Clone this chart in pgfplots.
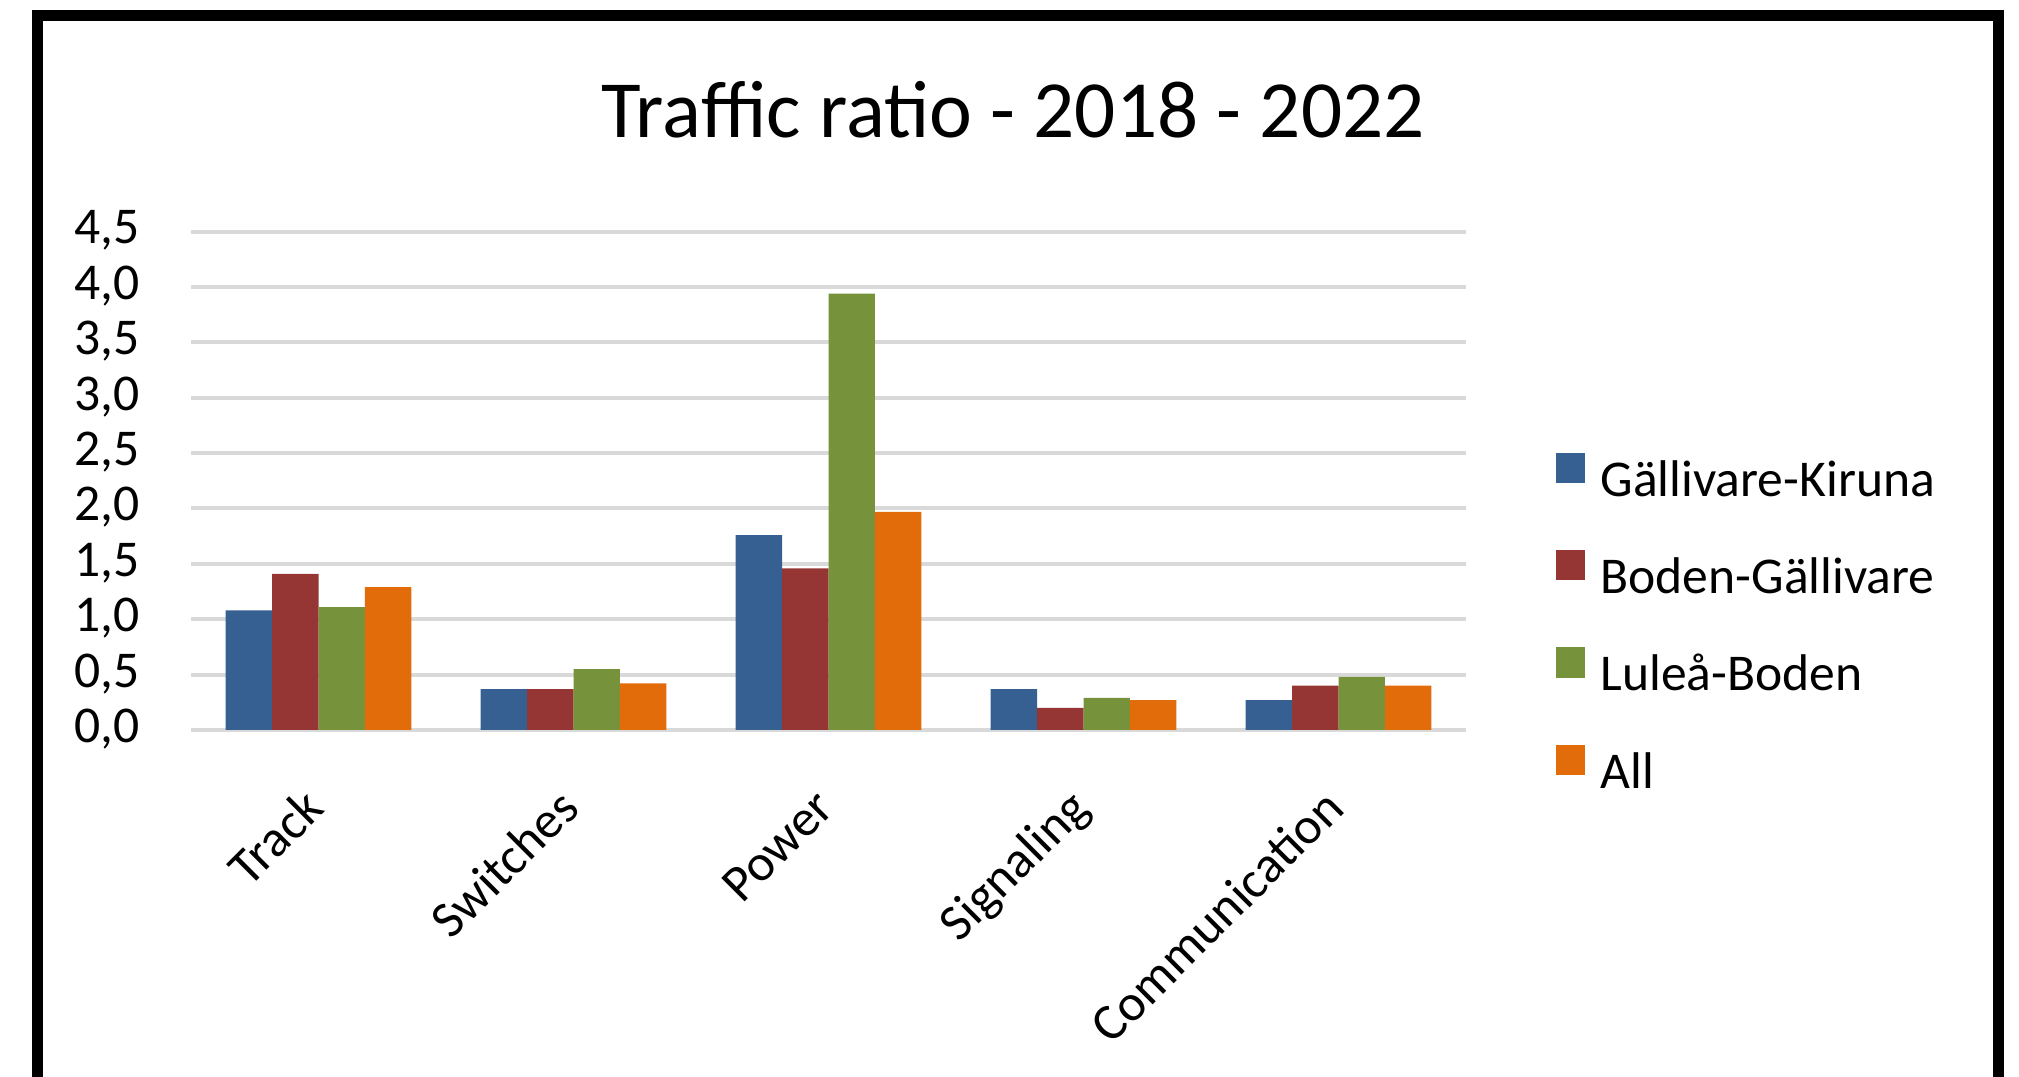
\documentclass[border=0pt]{standalone}
\usepackage{pgfplots}
\pgfplotsset{compat=1.18}
\usepackage{fontspec}
\setmainfont{Carlito}
\definecolor{cBlue}{HTML}{366092}
\definecolor{cRed}{HTML}{963634}
\definecolor{cGreen}{HTML}{76933C}
\definecolor{cOrange}{HTML}{E26B0A}
\definecolor{cGrid}{HTML}{D9D9D9}
\begin{document}
\begin{tikzpicture}
\useasboundingbox (0,0) rectangle (504.75pt,269.25pt);
\draw[line width=2.75pt] (9.25pt,-20pt) rectangle (499.6pt,265.4pt);
\node[font=\fontsize{20.3}{24}\selectfont, anchor=base, inner sep=0pt] at (253.25pt,234.75pt) {Traffic ratio - 2018 - 2022};
\begin{axis}[
  at={(47.75pt,86.75pt)}, anchor=south west,
  scale only axis, width=318.75pt, height=124.6pt,
  xmin=-0.5, xmax=4.5, ymin=0, ymax=4.5,
  ybar=0pt, bar width=11.6pt,
  axis line style={draw=none},
  major tick length=0pt,
  xtick={0,1,2,3,4},
  xticklabels={Track,Switches,Power,Signaling,Communication},
  ytick={0,0.5,1,1.5,2,2.5,3,3.5,4,4.5},
  yticklabels={{0,0},{0,5},{1,0},{1,5},{2,0},{2,5},{3,0},{3,5},{4,0},{4,5}},
  ymajorgrids, grid style={cGrid, line width=1pt},
  yticklabel style={font=\fontsize{12.9}{15}\selectfont, anchor=base east, inner sep=0pt, xshift=-12.75pt, yshift=-3.1pt},
  xticklabel style={font=\fontsize{12.9}{15}\selectfont, yshift=-18pt, rotate=45, anchor=east, inner sep=0pt, text height=8.5pt, text depth=2.5pt},
  every axis plot post/.append style={draw=none, legend image code/.code={\fill[##1] (0pt,0pt) rectangle (7.2pt,7.6pt);}},
  legend cell align=left,
  legend style={at={(1.0698,0.558)}, anchor=north west, draw=none, fill=none, inner sep=0pt,
    font=\fontsize{12.9}{15}\selectfont,
    nodes={inner sep=0pt, text height=9pt, text depth=2.5pt},
    row sep=11pt,
    /tikz/every odd column/.append style={column sep=4.0pt}},
]
\addplot[fill=cBlue] coordinates {(0,1.08) (1,0.37) (2,1.76) (3,0.37) (4,0.27)};
\addplot[fill=cRed] coordinates {(0,1.41) (1,0.37) (2,1.46) (3,0.20) (4,0.40)};
\addplot[fill=cGreen] coordinates {(0,1.11) (1,0.55) (2,3.94) (3,0.29) (4,0.48)};
\addplot[fill=cOrange] coordinates {(0,1.29) (1,0.42) (2,1.97) (3,0.27) (4,0.40)};
\legend{Gällivare-Kiruna,Boden-Gällivare,Luleå-Boden,All}
\end{axis}
\end{tikzpicture}
\end{document}
